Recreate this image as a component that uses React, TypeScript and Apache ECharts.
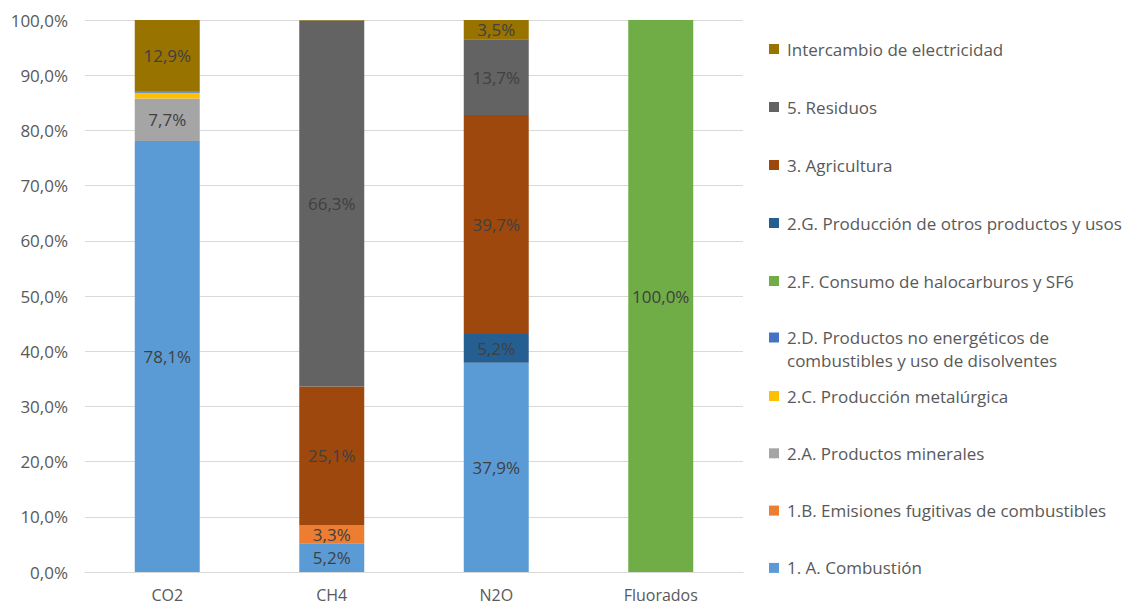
import React, { useEffect, useRef } from "react";
import * as echarts from "echarts";

// Gases shown on the category axis
const gases = ["CO2", "CH4", "N2O", "Fluorados"];

// Share (%) of each sector within each gas, in the order of `gases`
const combustion = [78.1, 5.2, 37.9, 0];
const fugitivas = [0, 3.3, 0, 0];
const minerales = [7.7, 0, 0, 0];
const metalurgica = [1.0, 0, 0, 0];
const noEnergeticos = [0.3, 0, 0, 0];
const halocarburos = [0, 0, 0, 100];
const otrosProductos = [0, 0, 5.2, 0];
const agricultura = [0, 25.1, 39.7, 0];
const residuos = [0, 66.3, 13.7, 0];
const intercambio = [12.9, 0.1, 3.5, 0];

const yTicks = { min: 0, max: 100, interval: 10 };

const sectors = [
  { name: "1. A. Combustión", data: combustion, color: "#5B9BD5" },
  { name: "1.B. Emisiones fugitivas de combustibles", data: fugitivas, color: "#ED7D31" },
  { name: "2.A. Productos minerales", data: minerales, color: "#A5A5A5" },
  { name: "2.C. Producción metalúrgica", data: metalurgica, color: "#FFC000" },
  {
    name: "2.D. Productos no energéticos de combustibles y uso de disolventes",
    data: noEnergeticos,
    color: "#4472C4",
  },
  { name: "2.F. Consumo de halocarburos y SF6", data: halocarburos, color: "#70AD47" },
  { name: "2.G. Producción de otros productos y usos", data: otrosProductos, color: "#255E91" },
  { name: "3. Agricultura", data: agricultura, color: "#9E480E" },
  { name: "5. Residuos", data: residuos, color: "#636363" },
  { name: "Intercambio de electricidad", data: intercambio, color: "#997300" },
];

const FONT = "'Open Sans', 'Noto Sans', sans-serif";
const pct = (v: number) => v.toFixed(1).replace(".", ",") + "%";

export default function App() {
  const ref = useRef<HTMLDivElement>(null);

  useEffect(() => {
    document.body.style.margin = "0";
    if (!ref.current) return;
    const chart = echarts.init(ref.current, undefined, { renderer: "svg" });

    const legendText = {
      fontFamily: FONT,
      fontSize: 17,
      color: "#595959",
      lineHeight: 22,
      padding: [0, 0, 0, 3],
    };
    const legendBase = {
      orient: "vertical" as const,
      left: 769,
      padding: 0,
      itemWidth: 10,
      itemHeight: 10,
      icon: "rect",
      textStyle: legendText,
    };
    const names = sectors.map((s) => s.name);

    chart.setOption({
      animation: false,
      backgroundColor: "#FFFFFF",
      textStyle: { fontFamily: FONT },
      grid: { left: 85, right: 384, top: 20, bottom: 34 },
      legend: [
        {
          ...legendBase,
          top: 38,
          itemGap: 36,
          data: [names[9], names[8], names[7], names[6], names[5]],
        },
        {
          // the long label wraps onto two lines; an empty first line keeps
          // the swatch level with "2.D." rather than between the lines
          ...legendBase,
          top: 303,
          data: [names[4]],
          formatter: () =>
            " \n2.D. Productos no energéticos de\ncombustibles y uso de disolventes",
          textStyle: { ...legendText, lineHeight: 23 },
        },
        {
          ...legendBase,
          top: 385,
          itemGap: 35.3,
          data: [names[3], names[2], names[1], names[0]],
        },
      ],
      xAxis: {
        type: "category",
        data: gases,
        axisLine: { lineStyle: { color: "#D9D9D9" } },
        axisTick: { show: false },
        axisLabel: { color: "#595959", fontSize: 16, margin: 15 },
      },
      yAxis: {
        type: "value",
        ...yTicks,
        axisLine: { show: false },
        axisTick: { show: false },
        splitLine: { lineStyle: { color: "#D9D9D9" } },
        axisLabel: {
          color: "#595959",
          fontSize: 17,
          margin: 17,
          formatter: (v: number) => pct(v),
        },
      },
      series: sectors.map((s) => ({
        name: s.name,
        type: "bar",
        stack: "total",
        barWidth: "39.5%",
        data: s.data,
        itemStyle: { color: s.color },
        label: {
          show: true,
          position: "inside",
          color: "#404040",
          fontSize: 17,
          formatter: (p: any) => (p.value >= 2 ? pct(p.value) : ""),
        },
      })),
    });

    return () => chart.dispose();
  }, []);

  return <div ref={ref} style={{ width: 1127, height: 606 }} />;
}
